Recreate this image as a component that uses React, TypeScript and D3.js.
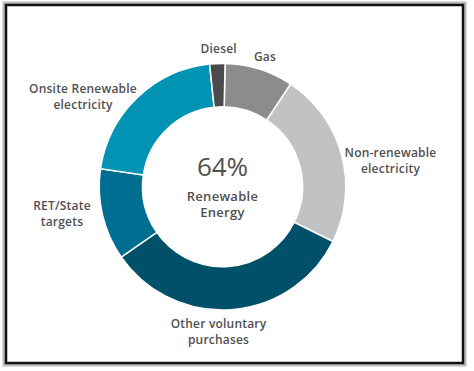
import React from 'react';
import * as d3 from 'd3';

// segment data, clockwise from the top
const categories = ['Gas', 'Non-renewable electricity', 'Other voluntary purchases', 'RET/State targets', 'Onsite Renewable electricity', 'Diesel'];
const shares = [9, 23, 33, 12, 21, 2];
const colors = ['#8b8c8e', '#c0c2c4', '#00506a', '#006e90', '#0093b3', '#4b4b4d'];

// label lines for each category
const labelLines = [['Gas'], ['Non-renewable', 'electricity'], ['Other voluntary', 'purchases'], ['RET/State', 'targets'], ['Onsite Renewable', 'electricity'], ['Diesel']];
const centerValue = '64%';
const centerLines = ['Renewable', 'Energy'];

const W = 474;
const H = 371;
const cx = 222.5;
const cy = 186.7;
const outerR = 123.3;
const innerR = 80;
const startOffset = (1.2 * Math.PI) / 180;

// label anchor points (text centre, first baseline)
const labelPos: [number, number][] = [
  [265, 60.7],
  [390.5, 156.7],
  [218.5, 328],
  [62, 210],
  [83, 93],
  [218.7, 53.3],
];

const font = "'Open Sans', sans-serif";
const textColor = '#505050';

export default function App() {
  const pie = d3.pie<number>().sort(null).value(d => d)
    .startAngle(startOffset).endAngle(startOffset + 2 * Math.PI);
  const arcs = pie(shares);
  const arc = d3.arc<d3.PieArcDatum<number>>().innerRadius(innerR).outerRadius(outerR);

  return (
    <svg width={W} height={H} style={{ position: 'absolute', left: 0, top: 0, background: '#fff' }}>
      <rect x={4.5} y={3.5} width={460} height={361} fill="none" stroke="#bbb" strokeWidth={4} />
      <rect x={6} y={5} width={457} height={358} fill="#fff" stroke="#111" strokeWidth={2.5} />
      <g transform={`translate(${cx},${cy})`}>
        {arcs.map((a, i) => (
          <path key={categories[i]} d={arc(a) || ''} fill={colors[i]} stroke="#fff" strokeWidth={1.5} />
        ))}
        <text x={0} y={176 - cy} textAnchor="middle" fontFamily={font} fontSize={26} fontWeight={500} fill={textColor}>{centerValue}</text>
        {centerLines.map((t, i) => (
          <text key={t} x={0} y={201 - cy + i * 16.5} textAnchor="middle" fontFamily={font} fontSize={13} fontWeight={600} fill={textColor} letterSpacing={0.3}>{t}</text>
        ))}
      </g>
      {labelLines.map((lines, i) => (
        <text key={categories[i]} textAnchor="middle" fontFamily={font} fontSize={12} fontWeight={600} fill={textColor} letterSpacing={0.2}>
          {lines.map((l, j) => (
            <tspan key={l} x={labelPos[i][0]} y={labelPos[i][1] + j * 16}>{l}</tspan>
          ))}
        </text>
      ))}
    </svg>
  );
}
